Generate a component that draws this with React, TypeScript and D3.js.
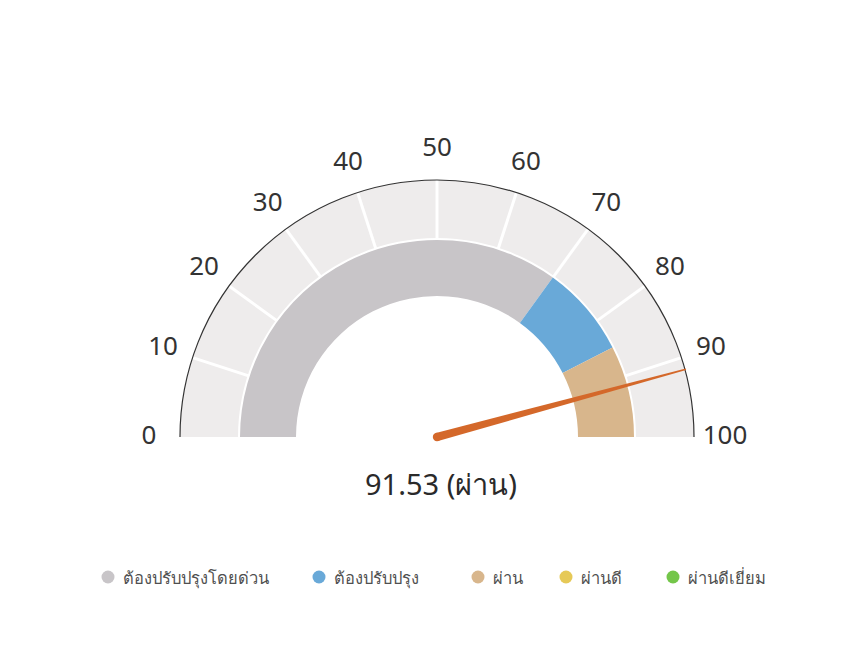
import { useMemo } from "react";
import * as d3 from "d3";

const bandNames = ["ต้องปรับปรุงโดยด่วน", "ต้องปรับปรุง", "ผ่าน", "ผ่านดี", "ผ่านดีเยี่ยม"];
const bandColors = ["#c8c5c8", "#69a9d8", "#d8b68c", "#e6c957", "#74c64a"];
// ranges drawn on the dial (only the first three appear)
const bandFrom = [0, 70, 85];
const bandTo = [70, 85, 100];
const tickValues = [0, 10, 20, 30, 40, 50, 60, 70, 80, 90, 100];
const score = 91.53;
const scoreLabel = "ผ่าน";

const W = 862;
const H = 651;
const cx = 437;
const cy = 437;
const rOuter = 257;
const rMid = 199;
const rInner = 141;
const legendX = [108, 319, 478, 566, 673];

const font = "'Noto Sans', 'Open Sans', sans-serif";

export default function App() {
  const angle = useMemo(
    () => d3.scaleLinear().domain([0, 100]).range([-Math.PI / 2, Math.PI / 2]),
    []
  );

  const outerBand = d3.arc()({
    innerRadius: rMid,
    outerRadius: rOuter,
    startAngle: angle(0),
    endAngle: angle(100),
  }) as string;

  const bands = bandFrom.map((from, i) => (
    <path
      key={i}
      d={
        d3.arc()({
          innerRadius: rInner,
          outerRadius: rMid - 2,
          startAngle: angle(from),
          endAngle: angle(bandTo[i]),
        }) as string
      }
      fill={bandColors[i]}
    />
  ));

  const dividers = tickValues.slice(1, -1).map((v) => {
    const a = angle(v);
    return (
      <line
        key={v}
        x1={Math.sin(a) * (rMid - 1)}
        y1={-Math.cos(a) * (rMid - 1)}
        x2={Math.sin(a) * rOuter}
        y2={-Math.cos(a) * rOuter}
        stroke="#fff"
        strokeWidth={3}
      />
    );
  });

  const labels = tickValues.map((v) => {
    const a = angle(v);
    const r = 288;
    return (
      <text
        key={v}
        x={Math.sin(a) * r}
        y={-Math.cos(a) * r - 3}
        textAnchor="middle"
        dominantBaseline="central"
        fontSize={26}
        fill="#333"
      >
        {v}
      </text>
    );
  });

  const rim = d3.arc()({
    innerRadius: rOuter,
    outerRadius: rOuter,
    startAngle: angle(0),
    endAngle: angle(100),
  }) as string;

  // tapered needle
  const na = angle(score);
  const ux = Math.sin(na);
  const uy = -Math.cos(na);
  const px = -uy;
  const py = ux;
  const len = rOuter + 1;
  const needle = d3.line()([
    [px * 4.2, py * 4.2],
    [ux * len + px * 0.8, uy * len + py * 0.8],
    [ux * len - px * 0.8, uy * len - py * 0.8],
    [-px * 4.2, -py * 4.2],
  ]) + "Z";

  return (
    <div style={{ position: "fixed", left: 0, top: 0 }}>
      <svg width={W} height={H} fontFamily={font}>
        <rect width={W} height={H} fill="#fff" />
        <g transform={`translate(${cx},${cy})`}>
          <path d={outerBand} fill="#eeecec" />
          {dividers}
          {bands}
          <path d={rim} fill="none" stroke="#333" strokeWidth={1.2} />
          {labels}
          <path d={needle} fill="#d4682a" />
          <circle r={4.2} fill="#d4682a" />
          <text
            x={4}
            y={46}
            textAnchor="middle"
            dominantBaseline="central"
            fontSize={29}
            fill="#2a2a2a"
          >
            {`${score} (${scoreLabel})`}
          </text>
        </g>
        <g transform="translate(0,577)">
          {bandNames.map((n, i) => (
            <g key={n} transform={`translate(${legendX[i]},0)`}>
              <circle r={6.5} fill={bandColors[i]} />
              <text
                x={15}
                dominantBaseline="central"
                fontSize={16.5}
                fill="#505050"
              >
                {n}
              </text>
            </g>
          ))}
        </g>
      </svg>
    </div>
  );
}
